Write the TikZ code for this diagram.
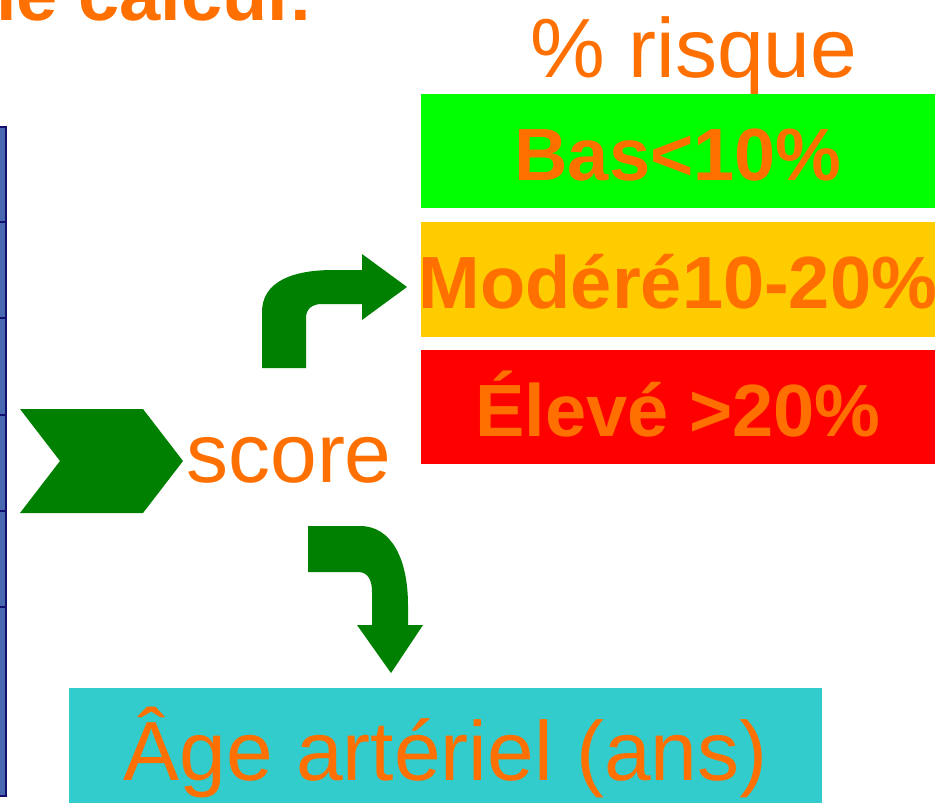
\documentclass[tikz,border=0pt]{standalone}
\usepackage{fontspec}
\setmainfont{Liberation Sans}
\definecolor{txtorange}{RGB}{255,112,0}
\definecolor{arrowgreen}{RGB}{0,128,0}
\definecolor{boxgreen}{RGB}{0,255,0}
\definecolor{boxyellow}{RGB}{255,204,0}
\definecolor{boxred}{RGB}{255,0,0}
\definecolor{boxcyan}{RGB}{51,204,204}
\definecolor{tblfill}{RGB}{74,104,176}
\definecolor{tblline}{RGB}{20,15,110}
\begin{document}
\begin{tikzpicture}[x=1pt,y=-1pt,
  lbl/.style={text=txtorange, inner sep=0pt, font=\fontsize{84}{96}\selectfont},
  blbl/.style={text=txtorange, inner sep=0pt, font=\bfseries\fontsize{74}{88}\selectfont},
  riskbox/.style={minimum width=514pt, minimum height=114pt, inner sep=0pt, draw=none},
  risktext/.style={blbl, text height=58pt, text depth=0pt},
  shapegreen/.style={fill=arrowgreen, draw=none},
  tbl/.style={draw=tblline, line width=2.5pt}]
\useasboundingbox (0,0) rectangle (945,803);
\clip (0,0) rectangle (945,803);
\fill[white] (0,0) rectangle (945,803);

% title fragment
\node[blbl, anchor=base east] (title) at (313,20) {le calcul:};

% left table edge
\fill[tblfill] (-2,126) rectangle (6,796);
\draw[tbl] (-2,127) -- (6,127) -- (6,796) -- (-2,796);
\foreach \yy in {222,318,415,511,607} \draw[tbl] (-2,\yy) -- (6,\yy);

% chevron
\fill[shapegreen] (20,409) -- (143,409) -- (183,461) -- (143,513) -- (20,513) -- (60,461) -- cycle;

% score
\node[lbl, anchor=base] (score) at (289,482) {score};

% % risque
\node[lbl, anchor=base] (risque) at (694,77) {\% risque};

% risk boxes
\node[riskbox, fill=boxgreen] (bas) at (678,151) {};
\node[risktext] (bastxt) at (bas.center) {Bas<10\%};
\node[riskbox, fill=boxyellow, minimum height=115pt] (mod) at (678,279.5) {};
\node[risktext] (modtxt) at (mod.center) {Modéré10-20\%};
\node[riskbox, fill=boxred] (elev) at (678,407) {};
\node[risktext] (elevtxt) at (elev.center) {Élevé >20\%};

% age box
\node[minimum width=753pt, minimum height=115pt, inner sep=0pt, fill=boxcyan] (age) at (445.5,745.5) {};
\node[lbl, text height=69pt, text depth=0pt] (agetxt) at (age.center) {Âge artériel (ans)};

% bent arrow up-right
\fill[shapegreen] (262,368) -- (262,312)
  .. controls (262,282) and (292,270) .. (333,270)
  -- (362,270) -- (362,254) -- (407,287) -- (362,320) -- (362,304)
  -- (322,304) .. controls (312,304) and (306,309) .. (306,318)
  -- (306,368) -- cycle;

% bent arrow down
\fill[shapegreen] (308,526) -- (360,526)
  .. controls (392,526) and (408,560) .. (408,605)
  -- (408,625) -- (423,625) -- (391,673) -- (357,625) -- (372,625)
  -- (372,592) .. controls (372,580) and (368,572) .. (358,572)
  -- (308,572) -- cycle;
\end{tikzpicture}
\end{document}
